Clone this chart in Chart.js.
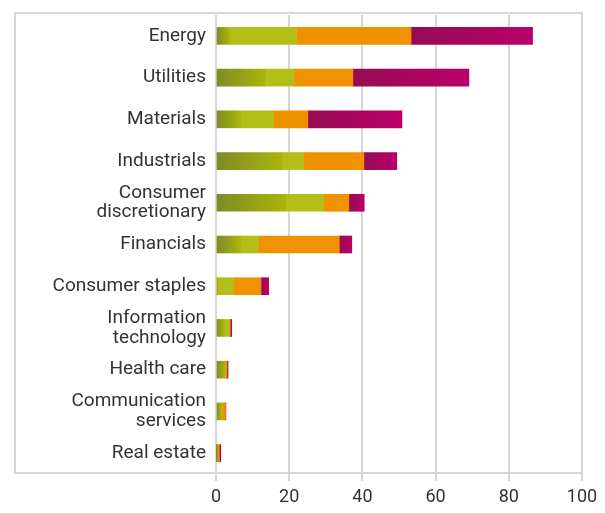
<!DOCTYPE html>
<html>
<head>
<meta charset="utf-8">
<script src="https://cdn.jsdelivr.net/npm/chart.js@4"></script>
<style>
html,body{margin:0;padding:0;background:#fff;}
#wrap{width:605px;height:513px;position:relative;}
</style>
</head>
<body>
<div id="wrap"><canvas id="c" width="605" height="513"></canvas></div>
<script>
const categories = ["Energy","Utilities","Materials","Industrials",["Consumer","discretionary"],"Financials","Consumer staples",["Information","technology"],"Health care",["Communication","services"],"Real estate"];
const series1 = [3.6, 13.5, 6.7, 18.1, 19.1, 6.7, 0.5, 2.2, 2.5, 1.4, 0.1];
const series2 = [18.4, 7.9, 9.0, 5.9, 10.3, 4.9, 4.4, 1.5, 0.1, 0.3, 0.1];
const series3 = [31.3, 16.0, 9.4, 16.4, 6.9, 22.1, 7.4, 0.2, 0.4, 0.9, 0.7];
const series4 = [33.2, 31.7, 25.7, 9.0, 4.2, 3.4, 2.1, 0.4, 0.3, 0.1, 0.4];
const xTicks = [0, 20, 40, 60, 80, 100];

const allSeries = [series1, series2, series3, series4];

function gradFill(fromCol, toCol, dsIndex) {
  return function(ctx) {
    const chart = ctx.chart;
    const x = chart.scales && chart.scales.x;
    if (!chart.chartArea || !x || ctx.dataIndex === undefined) return toCol;
    let before = 0;
    for (let k = 0; k < dsIndex; k++) before += allSeries[k][ctx.dataIndex];
    const after = before + allSeries[dsIndex][ctx.dataIndex];
    const x0 = x.getPixelForValue(before), x1 = x.getPixelForValue(after);
    if (!isFinite(x0) || !isFinite(x1) || x1 - x0 < 0.5) return fromCol;
    const g = chart.ctx.createLinearGradient(x0, 0, x1, 0);
    g.addColorStop(0, fromCol);
    g.addColorStop(1, toCol);
    return g;
  };
}

const boxPlugin = {
  id: 'box',
  beforeDatasetsDraw(chart) {
    const {ctx, chartArea} = chart;
    ctx.save();
    ctx.strokeStyle = '#d6d6d6';
    ctx.lineWidth = 2;
    ctx.strokeRect(15, chartArea.top - 2, chartArea.right - 15, chartArea.bottom - chartArea.top + 1);
    ctx.restore();
  }
};

new Chart(document.getElementById('c'), {
  type: 'bar',
  data: {
    labels: categories,
    datasets: [
      {label: 's1', data: series1, backgroundColor: gradFill('#7d8a28', '#aab50a', 0)},
      {label: 's2', data: series2, backgroundColor: '#b3bf17'},
      {label: 's3', data: series3, backgroundColor: '#f09100'},
      {label: 's4', data: series4, backgroundColor: gradFill('#960b53', '#ba006b', 3)}
    ]
  },
  options: {
    indexAxis: 'y',
    responsive: false,
    animation: false,
    maintainAspectRatio: false,
    layout: {padding: {left: 15, right: 23, top: 15, bottom: 6}},
    datasets: {bar: {barThickness: 17, borderWidth: 0, borderSkipped: false}},
    plugins: {legend: {display: false}, tooltip: {enabled: false}},
    scales: {
      x: {
        stacked: true,
        min: 0, max: 100,
        afterBuildTicks(scale) { scale.ticks = xTicks.map(v => ({value: v})); },
        grid: {color: '#d6d6d6', lineWidth: 2, drawTicks: true, tickLength: 7, tickColor: '#d6d6d6'},
        border: {display: false},
        ticks: {color: '#333', font: {family: 'Roboto', size: 18}, padding: 6, maxRotation: 0, autoSkip: false},
        afterFit(scale) { scale.height = 33; scale.paddingLeft = 0; scale.paddingRight = 0; }
      },
      y: {
        stacked: true,
        grid: {display: false, drawTicks: false},
        border: {display: false},
        ticks: {color: '#333', font: {family: 'Roboto', size: 19, lineHeight: 1.05}, padding: 10, crossAlign: 'near', autoSkip: false},
        afterFit(scale) { scale.width = 201; scale.paddingTop = 0; scale.paddingBottom = 0; }
      }
    }
  },
  plugins: [boxPlugin]
});
</script>
</body>
</html>
